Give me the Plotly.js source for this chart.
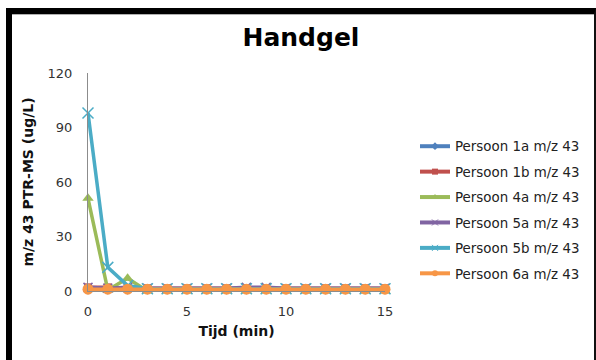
<!DOCTYPE html>
<html>
<head>
<meta charset="utf-8">
<script src="https://cdn.plot.ly/plotly-3.0.1.min.js"></script>
<style>
  html, body { margin: 0; padding: 0; background: #fff; }
  #chart { position: absolute; left: 0; top: 0; width: 596px; height: 360px; }
  #frame { position: absolute; left: 6px; top: 8px; width: 582px; height: 360px;
           border-left: 6px solid #000; border-top: 6px solid #000; border-right: 2px solid #111;
           pointer-events: none; }
  #frame-inner { position: absolute; left: 0; top: 0; width: 100%; height: 0; border-top: 1px solid #b0b0b0; }
</style>
</head>
<body>
<div id="chart"></div>
<div id="frame"><div id="frame-inner"></div></div>
<script>
const tijd = [0, 1, 2, 3, 4, 5, 6, 7, 8, 9, 10, 11, 12, 13, 14, 15];
const seriesNames = ["Persoon 1a m/z 43", "Persoon 1b m/z 43", "Persoon 4a m/z 43",
                     "Persoon 5a m/z 43", "Persoon 5b m/z 43", "Persoon 6a m/z 43"];
const persoon1a = [1, 1, 1, 1, 1, 1, 1, 1, 1, 1, 1, 1, 1, 1, 1, 1];
const persoon1b = [2, 2, 1.5, 1.5, 1.5, 1.5, 1.5, 1.5, 1.5, 1.5, 1.5, 1.5, 1.5, 1.5, 1.5, 1.5];
const persoon4a = [51, 0.5, 7, 0, 0, 0, 0, 0, 0, 0, 0, 0, 0, 0, 0, 0];
const persoon5a = [2, 1.5, 2, 1.5, 1.5, 1.5, 1.5, 1.5, 2, 2, 1.5, 1.5, 1.5, 1.5, 1.5, 1.5];
const persoon5b = [98, 13, 3, 1.2, 1.2, 1.2, 1.2, 1.2, 1.2, 1.2, 1.2, 1.2, 1.2, 1.2, 1.2, 1.2];
const persoon6a = [1, 1, 1, 1, 1, 1, 1, 1, 1, 1, 1, 1, 1, 1, 1, 1];
const yTicks = [0, 30, 60, 90, 120];
const xTicks = [0, 5, 10, 15];

const values = [persoon1a, persoon1b, persoon4a, persoon5a, persoon5b, persoon6a];
const colors = ["#4F81BD", "#C0504D", "#9BBB59", "#8064A2", "#4BACC6", "#F79646"];
const symbols = ["diamond", "square", "triangle-up", "x-thin", "x-thin", "circle"];
const sizes = [8, 8, 10, 9, 11, 11];
const legendSizes = [6, 6, 6, 6, 6, 6];

const dataTraces = values.map((v, i) => ({
  x: tijd, y: v, name: seriesNames[i], type: "scatter", mode: "lines+markers",
  showlegend: false,
  line: { color: colors[i], width: 3.5 },
  marker: { color: colors[i], symbol: symbols[i], size: sizes[i],
            line: { color: colors[i], width: (symbols[i] === "x-thin") ? 1.5 : 0 } },
  cliponaxis: false
}));
// legend entries (small markers as in the original legend)
const legendTraces = seriesNames.map((n, i) => ({
  x: [null], y: [null], name: n, type: "scatter", mode: "lines+markers",
  legendgroup: "g" + i, showlegend: true,
  line: { color: colors[i], width: 4 },
  marker: { color: colors[i], symbol: symbols[i], size: legendSizes[i],
            line: { color: colors[i], width: (symbols[i] === "x-thin") ? 1 : 0 } }
}));

const layout = {
  width: 596, height: 360,
  margin: { l: 88, r: 210, t: 73, b: 69 },
  paper_bgcolor: "#fff", plot_bgcolor: "#fff",
  font: { family: "DejaVu Sans", color: "#333" },
  title: { text: "<b>Handgel</b>", font: { family: "DejaVu Sans", size: 25, color: "#000" },
           x: 301 / 596, xanchor: "center", y: 1 - 37 / 360, yanchor: "middle" },
  xaxis: {
    range: [0, 15], tickvals: xTicks, ticktext: xTicks.map(String),
    showgrid: false, zeroline: false, showline: true, linecolor: "#8c8c8c", linewidth: 1,
    ticks: "", ticklabelstandoff: 8,
    tickfont: { size: 13, color: "#333" },
    title: { text: "<b>Tijd (min)</b>", font: { size: 14, color: "#111" }, standoff: 8 }
  },
  yaxis: {
    range: [0, 120], tickvals: yTicks, ticktext: yTicks.map(String),
    showgrid: false, zeroline: false, showline: true, linecolor: "#8c8c8c", linewidth: 1,
    ticks: "", ticklabelstandoff: 12,
    tickfont: { size: 13, color: "#333" },
    title: { text: "<b>m/z 43 PTR-MS (ug/L)</b>", font: { size: 14, color: "#111" }, standoff: 10 }
  },
  showlegend: true,
  legend: {
    x: (415 - 88) / 298, xanchor: "left", y: (291 - 131) / 218, yanchor: "top",
    font: { size: 13.4, color: "#222" }, tracegroupgap: 5, bgcolor: "rgba(0,0,0,0)"
  }
};

Plotly.newPlot("chart", dataTraces.concat(legendTraces), layout, { displayModeBar: false, staticPlot: true });
</script>
</body>
</html>
